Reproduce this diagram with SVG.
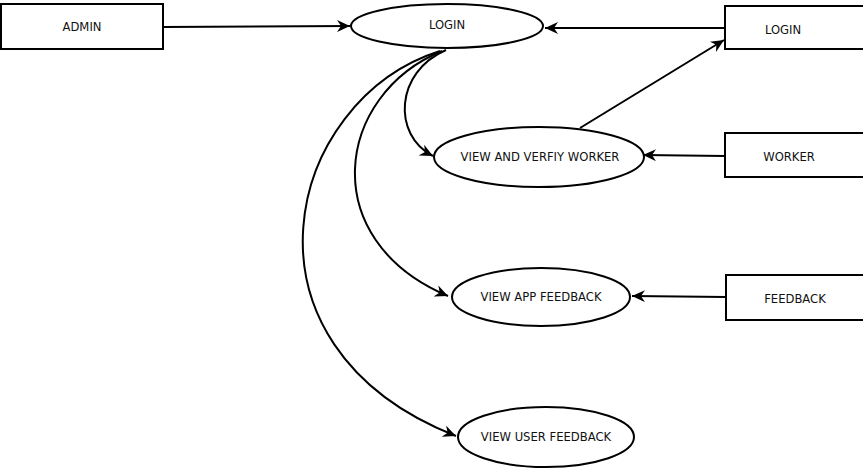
<svg xmlns="http://www.w3.org/2000/svg" width="863" height="469" viewBox="0 0 863 469">
<style>
.box{fill:#fff;stroke:#000;stroke-width:2}
.ell{fill:#fff;stroke:#000;stroke-width:2}
.lbl{font-family:"DejaVu Sans",Verdana,sans-serif;font-size:11.6px;fill:#111;text-anchor:middle;dominant-baseline:central}
.conn{fill:none;stroke:#000;stroke-width:2;marker-end:url(#arr)}
</style>
<defs>
<marker id="arr" markerUnits="userSpaceOnUse" markerWidth="14" markerHeight="12" refX="13" refY="6" orient="auto">
<path d="M0,0 L13,6 L0,12 L4,6 Z" fill="#000"/>
</marker>
</defs>
<rect width="863" height="469" fill="#fff"/>
<g id="connectors">
<path class="conn" d="M163,27 L350,26"/>
<path class="conn" d="M725,28 L545,28"/>
<path class="conn" d="M580,128 L724,40"/>
<path class="conn" d="M725,156 L643,155"/>
<path class="conn" d="M726,297 L632,296"/>
<path class="conn" d="M446,50 C395,72 392,135 433,156"/>
<path class="conn" d="M442,51 C335,95 315,240 448,296"/>
<path class="conn" d="M440,51 C285,100 225,345 456,436"/>
</g>
<g id="admin"><rect class="box" x="1" y="4" width="162" height="45"/><text class="lbl" x="82" y="27">ADMIN</text></g>
<g id="login"><ellipse class="ell" cx="447" cy="26" rx="96" ry="22"/><text class="lbl" x="447" y="25">LOGIN</text></g>
<g id="login-ext"><rect class="box" x="725" y="6" width="150" height="43"/><text class="lbl" x="783" y="30">LOGIN</text></g>
<g id="verify"><ellipse class="ell" cx="539" cy="157" rx="105" ry="30"/><text class="lbl" x="540" y="157">VIEW AND VERFIY WORKER</text></g>
<g id="worker"><rect class="box" x="725" y="133" width="150" height="44"/><text class="lbl" x="789" y="157">WORKER</text></g>
<g id="appfb"><ellipse class="ell" cx="541" cy="297" rx="89" ry="29"/><text class="lbl" x="541" y="297">VIEW APP FEEDBACK</text></g>
<g id="feedback"><rect class="box" x="726" y="275" width="150" height="45"/><text class="lbl" x="795" y="299">FEEDBACK</text></g>
<g id="userfb"><ellipse class="ell" cx="546" cy="437" rx="88" ry="30"/><text class="lbl" x="546" y="437">VIEW USER FEEDBACK</text></g>
</svg>
